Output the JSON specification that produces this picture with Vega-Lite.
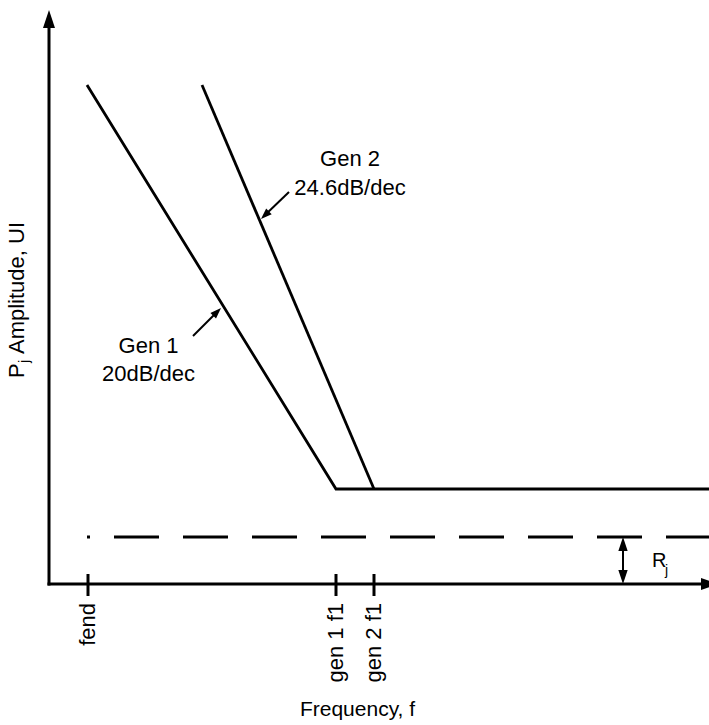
{
  "$schema": "https://vega.github.io/schema/vega-lite/v6.json",
  "width": 660,
  "height": 574,
  "autosize": {"type": "none"},
  "padding": {"left": 49, "top": 10, "right": 0, "bottom": 141},
  "background": "white",
  "config": {
    "view": {"stroke": null},
    "text": {"font": "Liberation Sans", "color": "black"}
  },
  "datasets": {
    "axes": [
      {"x": 0, "y": 0, "x2": 0, "y2": 56},
      {"x": 0, "y": 0, "x2": 65.5, "y2": 0}
    ],
    "curves": [
      {"gen": "Gen 1", "x": 3.8, "y": 49.9},
      {"gen": "Gen 1", "x": 28.7, "y": 9.5},
      {"gen": "Gen 1", "x": 66, "y": 9.5},
      {"gen": "Gen 2", "x": 15.3, "y": 49.9},
      {"gen": "Gen 2", "x": 32.5, "y": 9.5}
    ],
    "rj_level": [
      {"x": 3.8, "y": 4.7},
      {"x": 66, "y": 4.7}
    ],
    "freq_marks": [
      {"x": 3.9, "label": "fend"},
      {"x": 28.7, "label": "gen 1 f1"},
      {"x": 32.5, "label": "gen 2 f1"}
    ],
    "axis_heads": [
      {"x": 0, "y": 57.4, "angle": 0},
      {"x": 67.0, "y": 0, "angle": 90}
    ],
    "rj_heads": [
      {"x": 57.4, "y": 4.7, "angle": 0},
      {"x": 57.4, "y": 0, "angle": 180}
    ],
    "rj_shaft": [
      {"x": 57.4, "y": 0.5, "y2": 4.2}
    ],
    "note_heads": [
      {"x": 21.2, "y": 36.5, "angle": 226},
      {"x": 17.2, "y": 27.6, "angle": 45}
    ],
    "note_shafts": [
      {"x": 24.0, "y": 39.2, "x2": 21.5, "y2": 36.8},
      {"x": 14.4, "y": 24.8, "x2": 16.9, "y2": 27.3}
    ],
    "notes": [
      {"x": 30.1, "y": 41.8, "text": "Gen 2"},
      {"x": 30.1, "y": 38.9, "text": "24.6dB/dec"},
      {"x": 9.95, "y": 23.1, "text": "Gen 1"},
      {"x": 9.95, "y": 20.3, "text": "20dB/dec"}
    ],
    "ytitle_main": [
      {"x": -2.5, "y": 20.6, "text": "P"},
      {"x": -2.5, "y": 23.0, "text": "Amplitude, UI"}
    ],
    "ytitle_sub": [
      {"x": -2.0, "y": 22.1, "text": "j"}
    ],
    "rj_main": [
      {"x": 60.3, "y": 1.7, "text": "R"}
    ],
    "rj_sub": [
      {"x": 61.6, "y": 0.9, "text": "j"}
    ]
  },
  "encoding": {
    "x": {
      "field": "x",
      "type": "quantitative",
      "scale": {"domain": [0, 66], "nice": false, "zero": false},
      "axis": {
        "title": "Frequency, f",
        "labels": false,
        "ticks": false,
        "domain": false,
        "grid": false,
        "titleFont": "Liberation Sans",
        "titleFontSize": 21,
        "titleFontWeight": "normal",
        "titleColor": "black",
        "titleAnchor": null,
        "titleAlign": "center",
        "titleBaseline": "alphabetic",
        "titleX": 308,
        "titleY": 131
      }
    }
  },
  "layer": [
    {
      "data": {"name": "axes"},
      "mark": {"type": "rule", "color": "black", "strokeWidth": 3, "strokeCap": "square"},
      "encoding": {
        "y": {"field": "y", "type": "quantitative", "scale": {"domain": [0, 57.4], "nice": false, "zero": false}, "axis": null},
        "x2": {"field": "x2"},
        "y2": {"field": "y2"}
      }
    },
    {
      "data": {"name": "curves"},
      "mark": {"type": "line", "color": "black", "strokeWidth": 2.8, "strokeJoin": "miter"},
      "encoding": {
        "y": {"field": "y", "type": "quantitative", "scale": {"domain": [0, 57.4], "nice": false, "zero": false}, "axis": null},
        "detail": {"field": "gen"}
      }
    },
    {
      "data": {"name": "rj_level"},
      "mark": {"type": "line", "color": "black", "strokeWidth": 3, "strokeDash": [45, 24], "strokeDashOffset": 42},
      "encoding": {
        "y": {"field": "y", "type": "quantitative", "scale": {"domain": [0, 57.4], "nice": false, "zero": false}, "axis": null}
      }
    },
    {
      "data": {"name": "freq_marks"},
      "mark": {"type": "rule", "color": "black", "strokeWidth": 3},
      "encoding": {
        "y": {"datum": 1.0, "type": "quantitative", "scale": {"domain": [0, 57.4], "nice": false, "zero": false}, "axis": null},
        "y2": {"datum": -1.2}
      }
    },
    {
      "data": {"name": "freq_marks"},
      "mark": {"type": "text", "angle": 270, "align": "right", "baseline": "middle", "fontSize": 22},
      "encoding": {
        "y": {"datum": -1.9, "type": "quantitative", "scale": {"domain": [0, 57.4], "nice": false, "zero": false}, "axis": null},
        "text": {"field": "label"}
      }
    },
    {
      "data": {"name": "axis_heads"},
      "mark": {"type": "point", "shape": "M0,0L0.333,1L-0.333,1Z", "size": 1296, "filled": true, "color": "black", "opacity": 1, "strokeWidth": 0},
      "encoding": {
        "y": {"field": "y", "type": "quantitative", "scale": {"domain": [0, 57.4], "nice": false, "zero": false}, "axis": null},
        "angle": {"field": "angle", "type": "quantitative", "scale": null}
      }
    },
    {
      "data": {"name": "rj_shaft"},
      "mark": {"type": "rule", "color": "black", "strokeWidth": 2},
      "encoding": {
        "y": {"field": "y", "type": "quantitative", "scale": {"domain": [0, 57.4], "nice": false, "zero": false}, "axis": null},
        "y2": {"field": "y2"}
      }
    },
    {
      "data": {"name": "rj_heads"},
      "mark": {"type": "point", "shape": "M0,0L0.333,1L-0.333,1Z", "size": 784, "filled": true, "color": "black", "opacity": 1, "strokeWidth": 0},
      "encoding": {
        "y": {"field": "y", "type": "quantitative", "scale": {"domain": [0, 57.4], "nice": false, "zero": false}, "axis": null},
        "angle": {"field": "angle", "type": "quantitative", "scale": null}
      }
    },
    {
      "data": {"name": "note_shafts"},
      "mark": {"type": "rule", "color": "black", "strokeWidth": 2},
      "encoding": {
        "y": {"field": "y", "type": "quantitative", "scale": {"domain": [0, 57.4], "nice": false, "zero": false}, "axis": null},
        "x2": {"field": "x2"},
        "y2": {"field": "y2"}
      }
    },
    {
      "data": {"name": "note_heads"},
      "mark": {"type": "point", "shape": "M0,0L0.36,1L-0.36,1Z", "size": 484, "filled": true, "color": "black", "opacity": 1, "strokeWidth": 0},
      "encoding": {
        "y": {"field": "y", "type": "quantitative", "scale": {"domain": [0, 57.4], "nice": false, "zero": false}, "axis": null},
        "angle": {"field": "angle", "type": "quantitative", "scale": null}
      }
    },
    {
      "data": {"name": "notes"},
      "mark": {"type": "text", "align": "center", "baseline": "alphabetic", "fontSize": 22},
      "encoding": {
        "y": {"field": "y", "type": "quantitative", "scale": {"domain": [0, 57.4], "nice": false, "zero": false}, "axis": null},
        "text": {"field": "text"}
      }
    },
    {
      "data": {"name": "ytitle_main"},
      "mark": {"type": "text", "angle": 270, "align": "left", "baseline": "alphabetic", "fontSize": 22},
      "encoding": {
        "y": {"field": "y", "type": "quantitative", "scale": {"domain": [0, 57.4], "nice": false, "zero": false}, "axis": null},
        "text": {"field": "text"}
      }
    },
    {
      "data": {"name": "ytitle_sub"},
      "mark": {"type": "text", "angle": 270, "align": "left", "baseline": "alphabetic", "fontSize": 15},
      "encoding": {
        "y": {"field": "y", "type": "quantitative", "scale": {"domain": [0, 57.4], "nice": false, "zero": false}, "axis": null},
        "text": {"field": "text"}
      }
    },
    {
      "data": {"name": "rj_main"},
      "mark": {"type": "text", "align": "left", "baseline": "alphabetic", "fontSize": 20},
      "encoding": {
        "y": {"field": "y", "type": "quantitative", "scale": {"domain": [0, 57.4], "nice": false, "zero": false}, "axis": null},
        "text": {"field": "text"}
      }
    },
    {
      "data": {"name": "rj_sub"},
      "mark": {"type": "text", "align": "left", "baseline": "alphabetic", "fontSize": 14},
      "encoding": {
        "y": {"field": "y", "type": "quantitative", "scale": {"domain": [0, 57.4], "nice": false, "zero": false}, "axis": null},
        "text": {"field": "text"}
      }
    }
  ]
}
